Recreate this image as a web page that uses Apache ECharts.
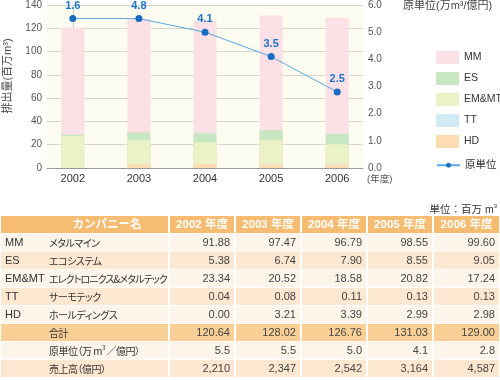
<!DOCTYPE html>
<html><head><meta charset="utf-8">
<script src="https://cdn.jsdelivr.net/npm/echarts@6/dist/echarts.min.js"></script>
<style>
html,body{margin:0;padding:0;background:#fff;width:500px;height:380px;overflow:hidden;font-family:"Liberation Sans","Noto Sans CJK JP",sans-serif;}
#chart{position:absolute;left:0;top:0;width:500px;height:205px;}
#unit{position:absolute;right:3px;top:201px;font-size:10.5px;color:#333;}
#tbl{position:absolute;left:-1px;top:215px;width:502px;border-collapse:separate;border-spacing:2px 1px;table-layout:fixed;font-size:11px;color:#444;}
#tbl td,#tbl th{height:17px;max-height:17px;padding:0;line-height:17px;white-space:nowrap;overflow:hidden;}
#tbl th{background:#f6bd72;color:#fff;font-weight:bold;font-size:11.5px;text-align:center;}
#tbl td.num{text-align:right;padding-right:4px;}
.ab{display:inline-block;width:44px;padding-left:4px;color:#333;height:17px;line-height:17px;vertical-align:top;}
.nm{display:inline-block;font-family:"Noto Sans CJK JP",sans-serif;font-size:10px;letter-spacing:-0.5px;font-feature-settings:"palt" 1;color:#333;height:17px;line-height:17px;vertical-align:top;overflow:visible;}
.nm.w{letter-spacing:-0.9px;}
tr.l td{background:#fdf5ea;}
tr.d td{background:#fce8d0;}
tr.t td{background:#f9cf95;}
sup{font-size:6px;vertical-align:5px;line-height:0;}
</style>
</head><body>
<div id="chart"></div>
<div id="unit">単位：百万 m<sup>3</sup></div>
<table id="tbl"></table>
<script>
// ---- chart data ----
const years = ['2002','2003','2004','2005','2006'];
const hdVals   = [0.00, 3.21, 3.39, 2.99, 2.98];
const ttVals   = [0.04, 0.08, 0.11, 0.13, 0.13];
const emmtVals = [27.3, 20.52, 18.58, 20.82, 17.24];
const esVals   = [1.3, 6.74, 7.90, 8.55, 9.05];
const mmVals   = [92.0, 97.47, 96.79, 98.55, 99.60];
const unitVals = [5.5, 5.5, 5.0, 4.1, 2.8];
const unitLabels = ['1.6','4.8','4.1','3.5','2.5'];
const leftTicks = [0,20,40,60,80,100,120,140];
const rightTicks = [0,1,2,3,4,5,6];

// ---- table data ----
const tHeader = ['カンパニー名','2002 年度','2003 年度','2004 年度','2005 年度','2006 年度'];
const tAbbr = ['MM','ES','EM&MT','TT','HD','','',''];
const tNames = ['メタルマイン','エコシステム','エレクトロニクス&メタルテック','サーモテック','ホールディングス','合計','原単位（万 m<sup>3</sup> ／億円）','売上高（億円）'];
const tMM   = ['91.88','97.47','96.79','98.55','99.60'];
const tES   = ['5.38','6.74','7.90','8.55','9.05'];
const tEMMT = ['23.34','20.52','18.58','20.82','17.24'];
const tTT   = ['0.04','0.08','0.11','0.13','0.13'];
const tHD   = ['0.00','3.21','3.39','2.99','2.98'];
const tSum  = ['120.64','128.02','126.76','131.03','129.00'];
const tUnit = ['5.5','5.5','5.0','4.1','2.8'];
const tSales= ['2,210','2,347','2,542','3,164','4,587'];
const tRowCls = ['l','d','l','d','l','t','l','d'];

// build table
(function(){
  const rows = [tMM,tES,tEMMT,tTT,tHD,tSum,tUnit,tSales];
  const widths = [167,64,64,64,64,65];
  let h = '<colgroup>' + widths.map(w=>'<col style="width:'+w+'px">').join('') + '</colgroup>';
  h += '<tr>' + tHeader.map((t,i)=> i===0 ? '<th style="padding-left:45px;">'+t+'</th>' : '<th>'+t+'</th>').join('') + '</tr>';
  rows.forEach((r,i)=>{
    const cls = tNames[i].length > 12 && tNames[i].indexOf('<') < 0 ? 'nm w' : 'nm';
    h += '<tr class="'+tRowCls[i]+'"><td><span class="ab">'+tAbbr[i].replace('&','&amp;')+'</span><span class="'+cls+'">'+tNames[i]+'</span></td>' +
      r.map(v=>'<td class="num">'+v+'</td>').join('') + '</tr>';
  });
  document.getElementById('tbl').innerHTML = h;
})();

const chart = echarts.init(document.getElementById('chart'), null, {renderer:'canvas'});
// cumulative tops (stack computed from the arrays), drawn back to front
const sumArr = (...arrs) => arrs[0].map((_,i)=>arrs.reduce((s,a)=>s+a[i],0));
const cumHD = sumArr(hdVals);
const cumTT = sumArr(hdVals, ttVals);
const cumEM = sumArr(hdVals, ttVals, emmtVals);
const cumES = sumArr(hdVals, ttVals, emmtVals, esVals);
const cumMM = sumArr(hdVals, ttVals, emmtVals, esVals, mmVals);
const toXY = arr => arr.map((v,i)=>[i,v]);
const colors = {MM:'#fbe0e5', ES:'#c9e6c2', EMMT:'#eaf2c6', TT:'#d2eaf6', HD:'#fcdcb0'};
function barSeries(name, vals, color){
  return {name, type:'bar', barWidth:23, barGap:'-100%', data:toXY(vals),
    itemStyle:{color}, emphasis:{disabled:true}};
}
const ff = '"Liberation Sans","Noto Sans CJK JP",sans-serif';
chart.setOption({
  animation:false,
  textStyle:{fontFamily:ff},
  grid:{left:47, right:137, top:4.5, bottom:37, show:true, backgroundColor:'#fdfcf0', borderWidth:0},
  legend:[{
    orient:'vertical', left:436, top:51, padding:0, itemWidth:23, itemHeight:13, itemGap:8,
    textStyle:{fontSize:10.5, color:'#333'},
    data:[
      {name:'MM', icon:'rect'},{name:'ES', icon:'rect'},{name:'EM&MT', icon:'rect'},
      {name:'TT', icon:'rect'},{name:'HD', icon:'rect'}
    ],
    selectedMode:false
  },{
    orient:'vertical', left:436, top:160, padding:0, itemWidth:23, itemHeight:6,
    textStyle:{fontSize:10.5, color:'#333'},
    data:[{name:'原単位'}],
    selectedMode:false
  }],
  xAxis:{
    type:'value', min:-0.39, max:4.39, minInterval:1, maxInterval:1,
    axisLine:{show:true, lineStyle:{color:'#999'}}, axisTick:{show:false}, splitLine:{show:false},
    axisLabel:{color:'#333', fontSize:11, margin:5,
      formatter: v => (Number.isInteger(v) && years[v]) ? years[v] : ''}
  },
  yAxis:[
    {type:'value', min:leftTicks[0], max:leftTicks[leftTicks.length-1], interval:20, position:'left',
     axisLine:{show:true, lineStyle:{color:'#ccc'}}, axisTick:{show:false},
     axisLabel:{color:'#555', fontSize:10, margin:5},
     splitLine:{show:true, lineStyle:{color:'#d6d6d6'}}},
    {type:'value', min:rightTicks[0], max:rightTicks[rightTicks.length-1], interval:1, position:'right',
     axisLine:{show:false}, axisTick:{show:false}, splitLine:{show:false},
     axisLabel:{color:'#555', fontSize:10, margin:5, formatter:v=>v.toFixed(1)}}
  ],
  series:[
    barSeries('MM', cumMM, colors.MM),
    barSeries('ES', cumES, colors.ES),
    barSeries('EM&MT', cumEM, colors.EMMT),
    barSeries('TT', cumTT, colors.TT),
    barSeries('HD', cumHD, colors.HD),
    {name:'原単位', type:'line', yAxisIndex:1, data:toXY(unitVals),
     symbol:'circle', symbolSize:7,
     lineStyle:{color:'#5aa8e2', width:1},
     itemStyle:{color:'#1a6cc0'},
     label:{show:true, position:'top', distance:4, color:'#1f74c8', fontWeight:'bold', fontSize:11,
       formatter:p=>unitLabels[p.dataIndex]},
     emphasis:{disabled:true}}
  ],
  graphic:[
    {type:'text', x:8, y:76, rotation:Math.PI/2,
     style:{text:'排出量(百万m³)', fontSize:11, fill:'#444', align:'center', verticalAlign:'middle', fontFamily:ff}},
    {type:'text', x:403, y:6,
     style:{text:'原単位(万m³/億円)', fontSize:11, fill:'#444', align:'left', verticalAlign:'middle', fontFamily:ff}},
    {type:'text', x:367, y:179,
     style:{text:'(年度)', fontSize:9.5, fill:'#555', align:'left', verticalAlign:'middle', fontFamily:ff}}
  ]
});
</script>
</body></html>
